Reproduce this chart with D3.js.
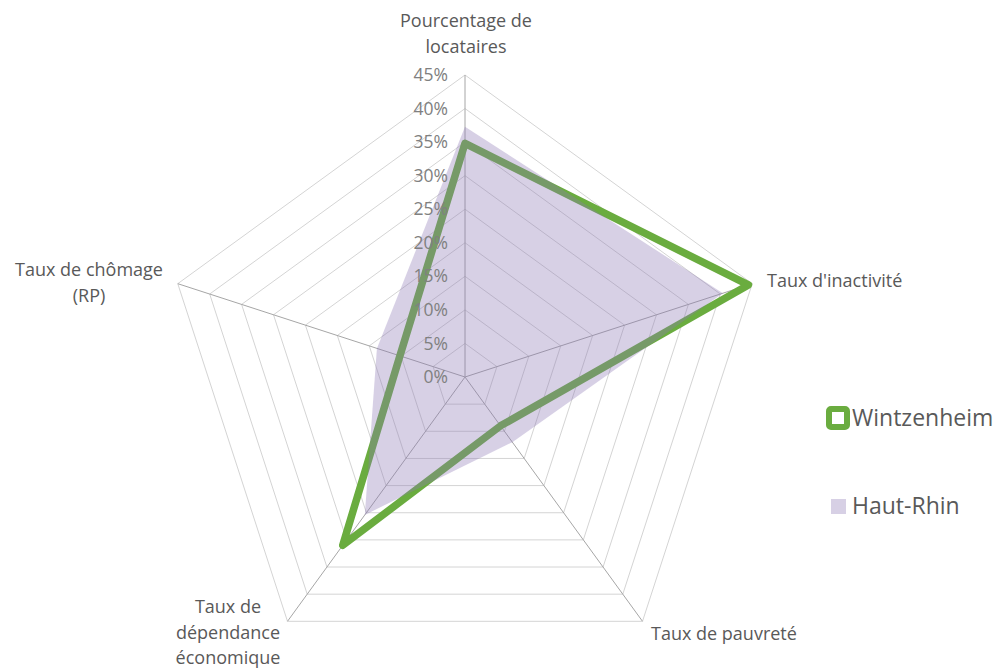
<!DOCTYPE html>
<html><head><meta charset="utf-8">
<script src="https://cdn.jsdelivr.net/npm/d3@7"></script>
<style>
html,body{margin:0;padding:0;background:#fff;}
svg{display:block;font-family:"Open Sans",Lato,sans-serif;}
</style></head>
<body>
<svg id="chart" width="1003" height="668"></svg>
<script>
const categories = ["Pourcentage de locataires","Taux d'inactivité","Taux de pauvreté","Taux de dépendance économique","Taux de chômage (RP)"];
const categoryLines = [["Pourcentage de","locataires"],["Taux d'inactivité"],["Taux de pauvreté"],["Taux de","dépendance","économique"],["Taux de chômage","(RP)"]];
const seriesNames = ["Wintzenheim","Haut-Rhin"];
const wintzenheim = [34.8, 44.4, 9.0, 31.0, 10.2];
const hautRhin = [37.3, 40.4, 12.0, 25.4, 13.8];
const tickValues = [0,5,10,15,20,25,30,35,40,45];
const tickLabels = ["0%","5%","10%","15%","20%","25%","30%","35%","40%","45%"];

const svg = d3.select("#chart");
const cx = 465, cy = 377, R = 302;
const r = d3.scaleLinear().domain([0,45]).range([0,R]);
const angle = d3.scaleLinear().domain([0,categories.length]).range([0,2*Math.PI]);
const pt = (i,v) => [cx + r(v)*Math.sin(angle(i)), cy - r(v)*Math.cos(angle(i))];

// rings
const g = svg.append("g");
tickValues.slice(1).forEach(t => {
  g.append("polygon")
    .attr("points", categories.map((c,i)=>pt(i,t).join(",")).join(" "))
    .attr("fill","none").attr("stroke","#d4d4d4").attr("stroke-width",1);
});
// spokes
categories.forEach((c,i)=>{
  const [x,y] = pt(i,45);
  g.append("line").attr("x1",cx).attr("y1",cy).attr("x2",x).attr("y2",y)
    .attr("stroke","#a6a6a6").attr("stroke-width",1);
});

const lineGen = d3.lineRadial().angle((d,i)=>angle(i)).radius(d=>r(d)).curve(d3.curveLinearClosed);

// Wintzenheim line
svg.append("path").attr("d", lineGen(wintzenheim))
  .attr("transform",`translate(${cx},${cy})`)
  .attr("fill","none").attr("stroke","#6aac3f").attr("stroke-width",7.5)
  .attr("stroke-linejoin","round");
// Haut-Rhin area
svg.append("path").attr("d", lineGen(hautRhin))
  .attr("transform",`translate(${cx},${cy})`)
  .attr("fill","#8d78b4").attr("fill-opacity",0.35).attr("stroke","none");

// tick labels
tickValues.forEach((t,k)=>{
  svg.append("text").attr("x",448).attr("y",cy - r(t)).attr("dy","0.35em")
    .attr("text-anchor","end").attr("font-size",17.5).attr("fill","#808080")
    .text(tickLabels[k]);
});

// category labels
const labelPos = [
  {x:466,y:21,anchor:"middle"},
  {x:767,y:281,anchor:"start"},
  {x:651,y:634,anchor:"start"},
  {x:228,y:607,anchor:"middle"},
  {x:89,y:270,anchor:"middle"}
];
categoryLines.forEach((lines,i)=>{
  const p = labelPos[i];
  const t = svg.append("text").attr("x",p.x).attr("y",p.y)
    .attr("text-anchor",p.anchor).attr("font-size",18).attr("fill","#595959");
  lines.forEach((l,j)=>{
    t.append("tspan").attr("x",p.x).attr("dy", j===0?"0.35em":"25.5").text(l);
  });
});

// legend
const lg = svg.append("g");
lg.append("rect").attr("x",829).attr("y",409).attr("width",18).attr("height",18).attr("rx",2)
  .attr("fill","#fff").attr("stroke","#6aac3f").attr("stroke-width",6);
lg.append("text").attr("x",852).attr("y",418).attr("dy","0.35em").attr("font-size",23)
  .attr("fill","#595959").text(seriesNames[0]);
lg.append("rect").attr("x",831).attr("y",499).attr("width",15).attr("height",15)
  .attr("fill","#8d78b4").attr("fill-opacity",0.35);
lg.append("text").attr("x",852).attr("y",506).attr("dy","0.35em").attr("font-size",23)
  .attr("fill","#595959").text(seriesNames[1]);
</script>
</body></html>
